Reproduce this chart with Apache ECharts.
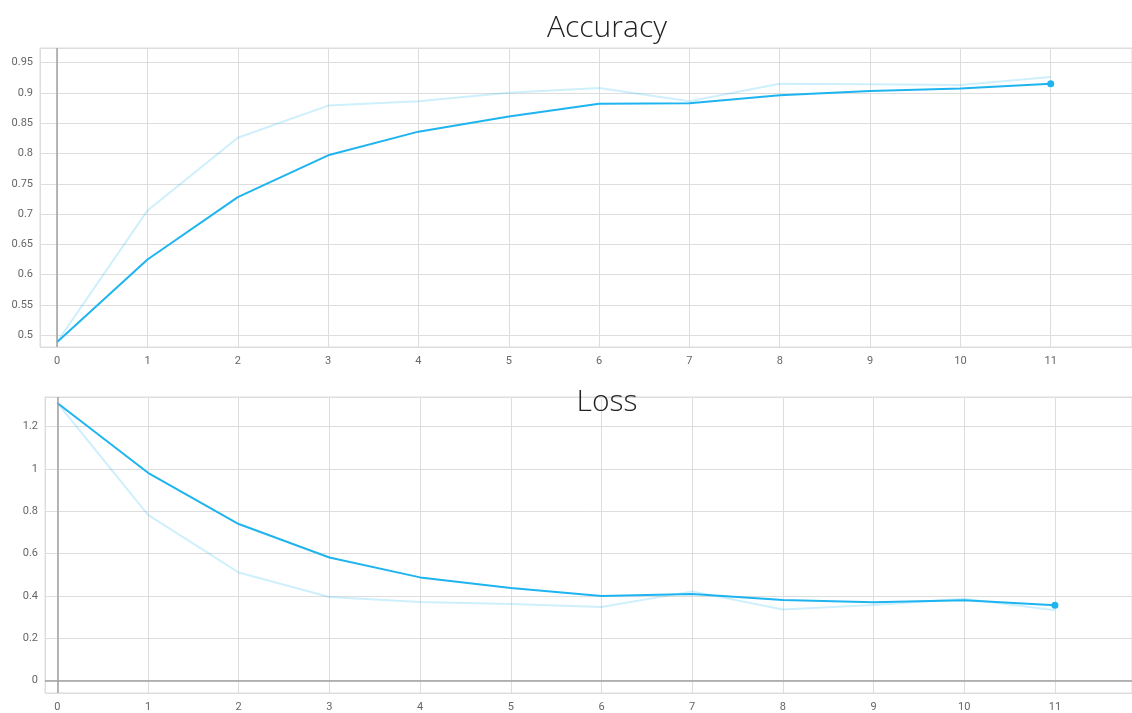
<!DOCTYPE html>
<html>
<head>
<meta charset="utf-8">
<script src="https://cdn.jsdelivr.net/npm/echarts@6/dist/echarts.min.js"></script>
<style>
html,body{margin:0;padding:0;background:#fff;}
#chart{width:1132px;height:713px;}
</style>
</head>
<body>
<div id="chart"></div>
<script>
// ---- data ----
const epochs = [0, 1, 2, 3, 4, 5, 6, 7, 8, 9, 10, 11];
const accuracyRaw      = [0.489, 0.706, 0.826, 0.879, 0.886, 0.900, 0.908, 0.886, 0.915, 0.914, 0.913, 0.926];
const accuracySmoothed = [0.489, 0.625, 0.728, 0.797, 0.836, 0.861, 0.882, 0.883, 0.896, 0.903, 0.907, 0.915];
const lossRaw          = [1.312, 0.783, 0.511, 0.395, 0.372, 0.362, 0.348, 0.422, 0.336, 0.358, 0.387, 0.333];
const lossSmoothed     = [1.312, 0.982, 0.740, 0.582, 0.488, 0.438, 0.400, 0.410, 0.381, 0.371, 0.380, 0.357];
const titles = ['Accuracy', 'Loss'];

// ---- styling ----
const DARK = '#1eb4f0';
const LIGHT = 'rgba(30,180,240,0.22)';
const GRID_LINE = '#dddddd';
const ZERO_LINE = '#a0a0a0';
const LABEL = {color: '#666', fontFamily: 'Roboto', fontSize: 11};

function pairs(vals) { return epochs.map((e, i) => [e, vals[i]]); }
function withEndDot(vals) {
  const d = pairs(vals);
  const last = d.length - 1;
  d[last] = {value: d[last], symbol: 'circle', symbolSize: 7, itemStyle: {color: DARK}};
  return d;
}
function stepFormatter(step, digits) {
  return function (v) {
    const r = v / step;
    if (Math.abs(r - Math.round(r)) > 1e-6) return '';
    return String(parseFloat(v.toFixed(digits)));
  };
}
function xAxis(idx, min, max) {
  return {
    type: 'value', gridIndex: idx, min: min, max: max,
    minInterval: 1, maxInterval: 1,
    axisLine: {show: false}, axisTick: {show: false},
    axisLabel: Object.assign({margin: 9, showMinLabel: false, showMaxLabel: false,
      formatter: stepFormatter(1, 0)}, LABEL),
    splitLine: {show: true, lineStyle: {color: GRID_LINE, width: 1}}
  };
}
function yAxis(idx, min, max, step, digits) {
  return {
    type: 'value', gridIndex: idx, min: min, max: max,
    minInterval: step, maxInterval: step,
    axisLine: {show: false}, axisTick: {show: false},
    axisLabel: Object.assign({margin: 7, showMinLabel: false, showMaxLabel: false,
      formatter: stepFormatter(step, digits)}, LABEL),
    splitLine: {show: true, lineStyle: {color: GRID_LINE, width: 1}}
  };
}
function zeroLines(list) {
  return {
    silent: true, symbol: 'none', animation: false,
    label: {show: false},
    lineStyle: {color: ZERO_LINE, width: 1.5, type: 'solid'},
    emphasis: {disabled: true},
    data: list
  };
}

const chart = echarts.init(document.getElementById('chart'), null, {renderer: 'canvas'});
chart.setOption({
  animation: false,
  backgroundColor: '#fff',
  grid: [
    {left: 40, right: 0, top: 48, bottom: 366, show: true, borderColor: GRID_LINE, borderWidth: 1, containLabel: false},
    {left: 45, right: 0, top: 397, bottom: 16, show: true, borderColor: GRID_LINE, borderWidth: 1, containLabel: false}
  ],
  xAxis: [xAxis(0, -0.19, 11.9), xAxis(1, -0.136, 11.85)],
  yAxis: [yAxis(0, 0.4807, 0.974, 0.05, 2), yAxis(1, -0.058, 1.34, 0.2, 1)],
  graphic: [
    {type: 'text', x: 607, y: 28, z: 100,
      style: {text: titles[0], fill: '#222', font: '300 30px "Open Sans"', align: 'center', verticalAlign: 'middle'}},
    {type: 'text', x: 607, y: 402, z: 100,
      style: {text: titles[1], fill: '#222', font: '300 30px "Open Sans"', align: 'center', verticalAlign: 'middle'}}
  ],
  series: [
    {type: 'line', xAxisIndex: 0, yAxisIndex: 0, data: pairs(accuracyRaw), symbol: 'none',
      lineStyle: {color: LIGHT, width: 2}, z: 2, silent: true,
      markLine: zeroLines([{xAxis: 0}])},
    {type: 'line', xAxisIndex: 0, yAxisIndex: 0, data: withEndDot(accuracySmoothed), symbol: 'none',
      showSymbol: true, lineStyle: {color: DARK, width: 2}, itemStyle: {color: DARK}, z: 3, silent: true},
    {type: 'line', xAxisIndex: 1, yAxisIndex: 1, data: pairs(lossRaw), symbol: 'none',
      lineStyle: {color: LIGHT, width: 2}, z: 2, silent: true,
      markLine: zeroLines([{xAxis: 0}, {yAxis: 0}])},
    {type: 'line', xAxisIndex: 1, yAxisIndex: 1, data: withEndDot(lossSmoothed), symbol: 'none',
      showSymbol: true, lineStyle: {color: DARK, width: 2}, itemStyle: {color: DARK}, z: 3, silent: true}
  ]
});
</script>
</body>
</html>
